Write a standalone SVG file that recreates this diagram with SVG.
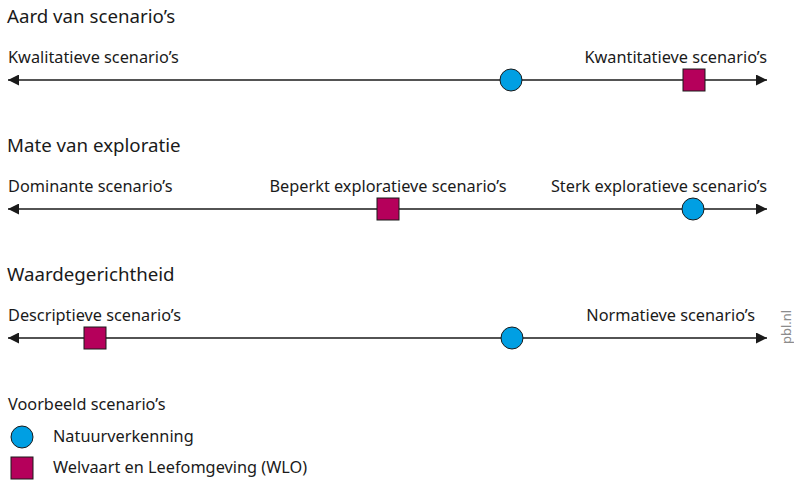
<svg xmlns="http://www.w3.org/2000/svg" width="794" height="481" viewBox="0 0 794 481">
  <style>
    text { font-family: "Noto Sans", "Open Sans", sans-serif; fill: #1a1a1a; }
    .title { font-size: 18.7px; }
    .label { font-size: 16.3px; }
    .axis { stroke: #1a1a1a; stroke-width: 1.5; fill: none; }
    .circ { fill: #009fe3; stroke: #1a1a1a; stroke-width: 1; }
    .sq { fill: #b5005b; stroke: #1a1a1a; stroke-width: 1; }
    .credit { font-size: 13px; fill: #8c8c8c; }
  </style>
  <defs>
    <marker id="arrow" viewBox="0 0 10 10" refX="10" refY="5" markerWidth="11" markerHeight="11" markerUnits="userSpaceOnUse" orient="auto-start-reverse">
      <path d="M0,0 L10,5 L0,10 Z" fill="#1a1a1a"/>
    </marker>
  </defs>

  <!-- Axis lines -->
  <g id="connectors">
    <line class="axis" x1="8" y1="80" x2="767" y2="80" marker-start="url(#arrow)" marker-end="url(#arrow)"/>
    <line class="axis" x1="8" y1="209" x2="767" y2="209" marker-start="url(#arrow)" marker-end="url(#arrow)"/>
    <line class="axis" x1="8" y1="338" x2="767" y2="338" marker-start="url(#arrow)" marker-end="url(#arrow)"/>
  </g>

  <!-- Aard van scenario's -->
  <g id="aard">
    <text class="title" x="7" y="23">Aard van scenario’s</text>
    <text class="label" x="8" y="63">Kwalitatieve scenario’s</text>
    <text class="label" x="767" y="63" text-anchor="end">Kwantitatieve scenario’s</text>
    <circle class="circ" cx="511" cy="80" r="11"/>
    <rect class="sq" x="683" y="69" width="22" height="22"/>
  </g>

  <!-- Mate van exploratie -->
  <g id="exploratie">
    <text class="title" x="7" y="152">Mate van exploratie</text>
    <text class="label" x="8" y="192">Dominante scenario’s</text>
    <text class="label" x="388" y="192" text-anchor="middle">Beperkt exploratieve scenario’s</text>
    <text class="label" x="767" y="192" text-anchor="end">Sterk exploratieve scenario’s</text>
    <rect class="sq" x="377" y="198" width="22" height="22"/>
    <circle class="circ" cx="693" cy="209" r="11"/>
  </g>

  <!-- Waardegerichtheid -->
  <g id="waarde">
    <text class="title" x="7" y="281">Waardegerichtheid</text>
    <text class="label" x="8" y="321">Descriptieve scenario’s</text>
    <text class="label" x="755" y="321" text-anchor="end">Normatieve scenario’s</text>
    <rect class="sq" x="84" y="327" width="22" height="22"/>
    <circle class="circ" cx="512" cy="338" r="11"/>
  </g>

  <text class="credit" transform="translate(791,344) rotate(-90)">pbl.nl</text>

  <!-- Legend -->
  <g id="legend">
    <text class="label" x="8" y="410">Voorbeeld scenario’s</text>
    <circle class="circ" cx="22" cy="437" r="11"/>
    <text class="label" x="53" y="442">Natuurverkenning</text>
    <rect class="sq" x="11" y="457" width="22" height="22"/>
    <text class="label" x="53" y="473">Welvaart en Leefomgeving (WLO)</text>
  </g>
</svg>
